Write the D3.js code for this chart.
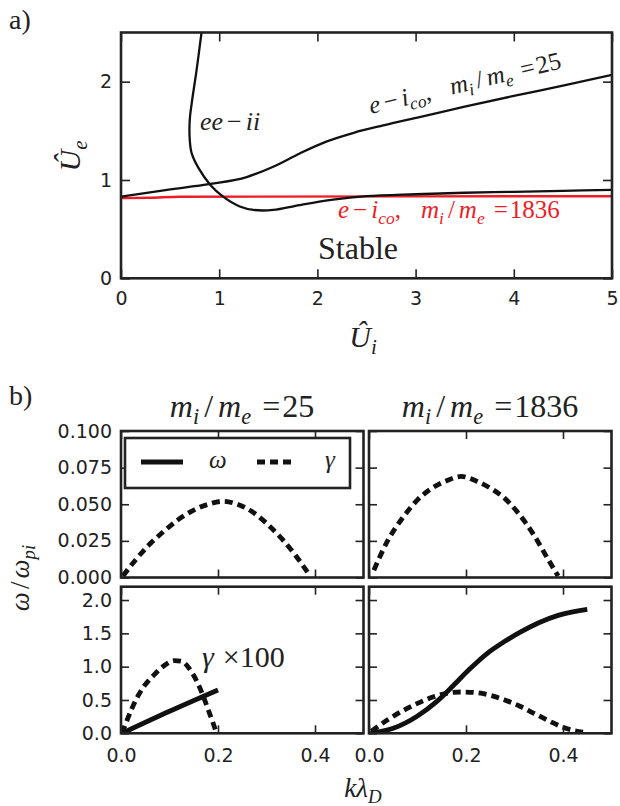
<!DOCTYPE html>
<html>
<head>
<meta charset="utf-8">
<script src="https://cdn.jsdelivr.net/npm/d3@7"></script>
<style>
  html, body { margin: 0; padding: 0; background: #fff; }
  svg { display: block; }
  .serif { font-family: "Liberation Serif", "Times New Roman", Times, Tinos, "Noto Serif", "DejaVu Serif", FreeSerif, "Nimbus Roman", serif; }
</style>
</head>
<body>
<div id="chart"></div>
<script>
// ---- panel a) : stability boundaries in the (U_i, U_e) plane ----
var eeIiUi = [0.82, 0.77, 0.72, 0.70, 0.70, 0.72, 0.79, 0.91, 1.04, 1.21, 1.35, 1.55, 1.82, 2.16, 2.5, 3.0, 3.5, 4.0, 4.5, 5.0];
var eeIiUe = [2.5, 2.12, 1.78, 1.61, 1.41, 1.27, 1.12, 0.95, 0.83, 0.73, 0.695, 0.695, 0.745, 0.80, 0.835, 0.855, 0.87, 0.88, 0.89, 0.90];

var eic25Ui = [0, 0.47, 0.91, 1.28, 1.55, 1.82, 2.09, 2.37, 2.67, 3.04, 3.5, 4.0, 4.5, 5.0];
var eic25Ue = [0.83, 0.90, 0.96, 1.03, 1.135, 1.27, 1.39, 1.48, 1.555, 1.64, 1.745, 1.855, 1.96, 2.07];

var eic1836Ui = [0, 0.3, 0.6, 5.0];
var eic1836Ue = [0.815, 0.82, 0.83, 0.835];

var topXTicks = [0, 1, 2, 3, 4, 5];
var topYTicks = [0, 1, 2];

// ---- panel b) : growth rate and frequency vs k lambda_D ----
var k25Gam = [0.004, 0.03, 0.06, 0.09, 0.12, 0.15, 0.18, 0.21, 0.24, 0.27, 0.30, 0.33, 0.36, 0.39];
var gam25 = [0.001, 0.012, 0.023, 0.032, 0.040, 0.046, 0.050, 0.052, 0.050, 0.045, 0.037, 0.027, 0.015, 0.001];

var k1836Gam = [0.01, 0.04, 0.07, 0.10, 0.13, 0.16, 0.19, 0.22, 0.25, 0.28, 0.31, 0.34, 0.37, 0.39];
var gam1836 = [0.005, 0.026, 0.041, 0.053, 0.061, 0.066, 0.069, 0.066, 0.061, 0.054, 0.043, 0.029, 0.012, 0.001];

var k25Om = [0.005, 0.1, 0.2];
var om25 = [0.01, 0.33, 0.65];
var k25G100 = [0.002, 0.01, 0.02, 0.035, 0.05, 0.07, 0.09, 0.11, 0.125, 0.14, 0.155, 0.17, 0.18, 0.19, 0.197];
var g25x100 = [0.0, 0.15, 0.33, 0.56, 0.73, 0.89, 1.02, 1.09, 1.08, 0.98, 0.80, 0.55, 0.35, 0.15, 0.0];

var k1836Om = [0.003, 0.05, 0.10, 0.14, 0.173, 0.207, 0.242, 0.28, 0.31, 0.35, 0.39, 0.45];
var om1836 = [0.0, 0.075, 0.26, 0.48, 0.71, 0.96, 1.19, 1.38, 1.51, 1.66, 1.77, 1.86];
var k1836G = [0.005, 0.04, 0.07, 0.10, 0.13, 0.16, 0.19, 0.22, 0.25, 0.28, 0.31, 0.34, 0.37, 0.40, 0.446];
var g1836 = [0.03, 0.21, 0.34, 0.45, 0.54, 0.60, 0.62, 0.61, 0.57, 0.50, 0.41, 0.30, 0.19, 0.09, 0.01];

var botXTicks = [0, 0.2, 0.4];
var upYTicks = [0, 0.025, 0.05, 0.075, 0.1];
var lowYTicks = [0, 0.5, 1, 1.5, 2];

var SANS = "'DejaVu Sans', 'Liberation Sans', sans-serif";
var INK = '#222';
var RED = '#ee1c25';

var svg = d3.select('#chart').append('svg')
  .attr('width', 620)
  .attr('height', 806);

function zip(xs, ys) {
  return xs.map(function(v, i) { return [v, ys[i]]; });
}

function serifText(sel, str, size) {
  return sel.append('text')
    .attr('class', 'serif')
    .attr('font-size', size)
    .attr('fill', INK)
    .text(str);
}

// math-like text: italic letters, upright digits/operators, subscripts
function mathText(sel, parts, size) {
  var text = sel.append('text')
    .attr('class', 'serif')
    .attr('font-size', size)
    .attr('fill', INK);
  var drop = 0;
  parts.forEach(function(p) {
    var d = p.sub ? size * 0.22 : 0;
    text.append('tspan')
      .attr('font-style', p.up ? 'normal' : 'italic')
      .attr('font-size', p.sub ? size * 0.7 : size)
      .attr('dx', p.dx || 0)
      .attr('dy', d - drop)
      .text(p.t);
    drop = d;
  });
  return text;
}

function ratioLabel(value) {
  return [
    { t: 'e' }, { t: '−', up: 1, dx: 4 }, { t: 'i', dx: 4 }, { t: 'co', sub: 1 }, { t: ',', up: 1 },
    { t: 'm', dx: 20 }, { t: 'i', sub: 1 }, { t: '/', up: 1, dx: 4 }, { t: 'm', dx: 4 }, { t: 'e', sub: 1 },
    { t: '=', up: 1, dx: 9 }, { t: value, up: 1, dx: 2 }
  ];
}

var clipId = 0;

function panel(box, xDom, yDom, spec) {
  var x = d3.scaleLinear().domain(xDom).range([box.x0, box.x1]);
  var y = d3.scaleLinear().domain(yDom).range([box.y1, box.y0]);
  var g = svg.append('g');

  var id = 'clip' + (clipId++);
  g.append('clipPath').attr('id', id)
    .append('rect')
    .attr('x', box.x0).attr('y', box.y0)
    .attr('width', box.x1 - box.x0).attr('height', box.y1 - box.y0);

  var plot = g.append('g').attr('clip-path', 'url(#' + id + ')');
  var axes = g.append('g');

  function style(a) {
    a.select('.domain').remove();
    a.selectAll('.tick line').attr('stroke', INK).attr('stroke-width', 1.6);
    a.selectAll('.tick text')
      .attr('fill', INK)
      .attr('font-family', SANS)
      .attr('font-size', spec.font);
    a.attr('font-size', null).attr('font-family', null);
  }

  var len = spec.tick;
  axes.append('g')
    .attr('transform', 'translate(0,' + box.y1 + ')')
    .call(d3.axisBottom(x).tickValues(spec.xt).tickSizeInner(-len).tickSizeOuter(0)
      .tickPadding(spec.xPad).tickFormat(spec.xFmt ? d3.format(spec.xFmt) : ''))
    .call(style);
  axes.append('g')
    .attr('transform', 'translate(0,' + box.y0 + ')')
    .call(d3.axisTop(x).tickValues(spec.xt).tickSizeInner(-len).tickSizeOuter(0).tickFormat(''))
    .call(style);
  axes.append('g')
    .attr('transform', 'translate(' + box.x0 + ',0)')
    .call(d3.axisLeft(y).tickValues(spec.yt).tickSizeInner(-len).tickSizeOuter(0)
      .tickPadding(spec.yPad).tickFormat(spec.yFmt ? d3.format(spec.yFmt) : ''))
    .call(style);
  axes.append('g')
    .attr('transform', 'translate(' + box.x1 + ',0)')
    .call(d3.axisRight(y).tickValues(spec.yt).tickSizeInner(-len).tickSizeOuter(0).tickFormat(''))
    .call(style);

  axes.append('rect')
    .attr('x', box.x0).attr('y', box.y0)
    .attr('width', box.x1 - box.x0).attr('height', box.y1 - box.y0)
    .attr('fill', 'none')
    .attr('stroke', INK)
    .attr('stroke-width', spec.frame);

  return { x: x, y: y, plot: plot, g: g };
}

function curve(p, xs, ys, color, width, dash, shape) {
  var line = d3.line()
    .x(function(d) { return p.x(d[0]); })
    .y(function(d) { return p.y(d[1]); })
    .curve(shape || d3.curveMonotoneX);
  var path = p.plot.append('path')
    .attr('d', line(zip(xs, ys)))
    .attr('fill', 'none')
    .attr('stroke', color)
    .attr('stroke-width', width)
    .attr('stroke-linejoin', 'round');
  if (dash) {
    path.attr('stroke-dasharray', dash);
  }
  return path;
}

// ================= panel a) =================
var pa = panel({ x0: 121, x1: 612, y0: 32.5, y1: 278.3 }, [0, 5], [0, 2.5], {
  xt: topXTicks, yt: topYTicks, xFmt: 'd', yFmt: 'd',
  xPad: 13, yPad: 9, tick: 9, font: 19, frame: 2.6
});

curve(pa, eic1836Ui, eic1836Ue, RED, 2.4);
curve(pa, eic25Ui, eic25Ue, '#111', 2.3);
curve(pa, eeIiUi, eeIiUe, '#111', 2.3, null, d3.curveCatmullRom.alpha(0.5));

serifText(svg, 'a)', 28).attr('x', 9).attr('y', 29);

mathText(svg, [{ t: 'e' }, { t: 'e' }, { t: '−', up: 1, dx: 4 }, { t: 'i', dx: 4 }, { t: 'i' }], 26)
  .attr('transform', 'translate(200,130)');

mathText(svg, ratioLabel('25'), 25)
  .attr('transform', 'translate(371,114) rotate(-13.5)');

mathText(svg, ratioLabel('1836'), 25)
  .attr('transform', 'translate(338,218)').attr('fill', RED);

serifText(svg, 'Stable', 32).attr('x', 318).attr('y', 259);

mathText(svg, [{ t: 'Û' }, { t: 'i', sub: 1 }], 30)
  .attr('text-anchor', 'middle')
  .attr('transform', 'translate(363,347)');

mathText(svg, [{ t: 'Û' }, { t: 'e', sub: 1 }], 30)
  .attr('text-anchor', 'middle')
  .attr('transform', 'translate(80,156) rotate(-90)');

// ================= panel b) =================
var upY = { y0: 431, y1: 577.5 };
var lowY = { y0: 586.7, y1: 733.3 };
var leftX = { x0: 121, x1: 363.5 };
var rightX = { x0: 369, x1: 611.5 };

var base = { xt: botXTicks, xPad: 15, yPad: 9, tick: 8, font: 19, frame: 2.6 };

var pUL = panel({ x0: leftX.x0, x1: leftX.x1, y0: upY.y0, y1: upY.y1 }, [0, 0.5], [0, 0.1],
  Object.assign({}, base, { yt: upYTicks, yFmt: '.3f' }));
var pUR = panel({ x0: rightX.x0, x1: rightX.x1, y0: upY.y0, y1: upY.y1 }, [0, 0.5], [0, 0.1],
  Object.assign({}, base, { yt: upYTicks }));
var pLL = panel({ x0: leftX.x0, x1: leftX.x1, y0: lowY.y0, y1: lowY.y1 }, [0, 0.5], [0, 2.2],
  Object.assign({}, base, { yt: lowYTicks, yFmt: '.1f', xFmt: '.1f' }));
var pLR = panel({ x0: rightX.x0, x1: rightX.x1, y0: lowY.y0, y1: lowY.y1 }, [0, 0.5], [0, 2.2],
  Object.assign({}, base, { yt: lowYTicks, xFmt: '.1f' }));

var DASH = '8,5';
var LW = 4.8;

curve(pUL, k25Gam, gam25, '#111', LW, DASH);
curve(pUR, k1836Gam, gam1836, '#111', LW, DASH);
curve(pLL, k25Om, om25, '#111', LW);
curve(pLL, k25G100, g25x100, '#111', LW, DASH);
curve(pLR, k1836Om, om1836, '#111', LW);
curve(pLR, k1836G, g1836, '#111', LW, DASH);

// legend (upper-left panel)
var leg = pUL.g.append('g');
leg.append('rect')
  .attr('x', 125).attr('y', 438).attr('width', 225).attr('height', 50)
  .attr('fill', '#fff').attr('stroke', INK).attr('stroke-width', 2.6);
leg.append('line')
  .attr('x1', 141).attr('x2', 183).attr('y1', 462).attr('y2', 462)
  .attr('stroke', '#111').attr('stroke-width', LW);
leg.append('line')
  .attr('x1', 257).attr('x2', 296).attr('y1', 462).attr('y2', 462)
  .attr('stroke', '#111').attr('stroke-width', LW).attr('stroke-dasharray', DASH);
mathText(leg, [{ t: 'ω' }], 25).attr('transform', 'translate(209,468)');
mathText(leg, [{ t: 'γ' }], 25).attr('transform', 'translate(325,468)');

mathText(svg, [{ t: 'γ' }, { t: '×100', up: 1, dx: 9 }], 30)
  .attr('transform', 'translate(202,667)');

serifText(svg, 'b)', 28).attr('x', 9).attr('y', 405);

var titleParts = function(ratio) {
  return [
    { t: 'm' }, { t: 'i', sub: 1 }, { t: '/', up: 1, dx: 5 }, { t: 'm', dx: 5 }, { t: 'e', sub: 1 },
    { t: '=', up: 1, dx: 11 }, { t: ratio, up: 1, dx: 2 }
  ];
};
mathText(svg, titleParts('25'), 32)
  .attr('text-anchor', 'middle')
  .attr('transform', 'translate(242,417)');
mathText(svg, titleParts('1836'), 32)
  .attr('text-anchor', 'middle')
  .attr('transform', 'translate(490,417)');

mathText(svg, [{ t: 'k' }, { t: 'λ' }, { t: 'D', sub: 1 }], 27)
  .attr('text-anchor', 'middle')
  .attr('transform', 'translate(363,797)');

mathText(svg, [{ t: 'ω' }, { t: '/', up: 1, dx: 3 }, { t: 'ω', dx: 3 }, { t: 'pi', sub: 1 }], 27)
  .attr('text-anchor', 'middle')
  .attr('transform', 'translate(29,578) rotate(-90)');
</script>
</body>
</html>
